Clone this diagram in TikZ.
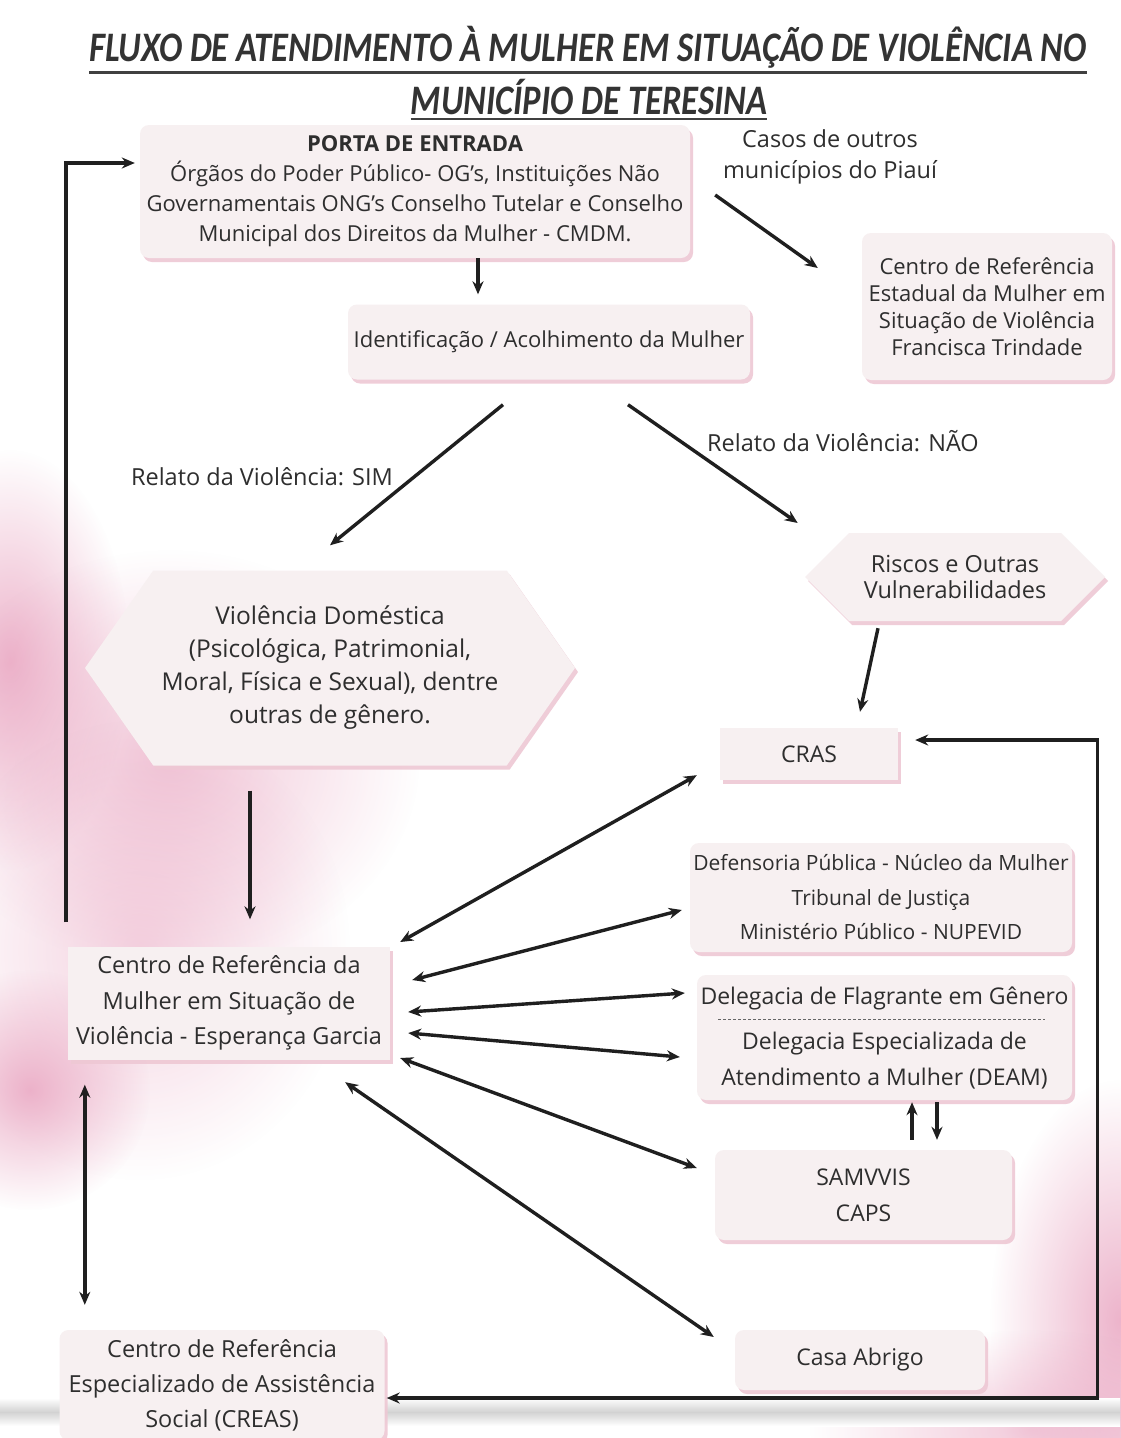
\documentclass[tikz,border=0pt]{standalone}
\usepackage{fontspec}
\setmainfont{Open Sans}
\newfontfamily\titlefont{Carlito}
\usetikzlibrary{shapes.symbols,shadows,fadings,arrows.meta}

\definecolor{boxfill}{HTML}{F7F0F1}
\definecolor{boxshadow}{HTML}{EEC8D4}
\definecolor{txt}{HTML}{2E2E2E}
\definecolor{pinkbg}{HTML}{E79BBA}
\tikzfading[name=softfade, inner color=transparent!25, outer color=transparent!100]

\tikzset{
  box/.style={draw=none, fill=boxfill, text=txt, align=center, inner sep=0pt,
    font=\fontsize{22}{30}\selectfont,
    drop shadow={shadow xshift=3pt, shadow yshift=-4pt, fill=boxshadow, opacity=0.9}},
  rbox/.style={box, rounded corners=9pt},
  hexa/.style={box, shape=signal, signal to=east and west},
  lbl/.style={text=txt, align=center, font=\fontsize{23.5}{31}\selectfont},
  arr/.style={-{Stealth[length=13pt,width=11pt]}, line width=3.4pt, draw=black!88},
  darr/.style={{Stealth[length=13pt,width=11pt]}-{Stealth[length=13pt,width=11pt]}, line width=3.4pt, draw=black!88},
  softpink/.style={fill=pinkbg, path fading=softfade},
  ttl/.style={text=black!80, font=\titlefont\bfseries\itshape\fontsize{42}{42}\selectfont, inner sep=0pt}
}

\begin{document}
\begin{tikzpicture}[x=1pt,y=-1pt]
\useasboundingbox (0,0) rectangle (1120,1438);
\fill[white] (0,0) rectangle (1120,1438);

% background watercolour
\fill[softpink] (10,660) ellipse (120 and 210);
\fill[softpink, opacity=0.75] (170,760) ellipse (250 and 210);
\fill[softpink, opacity=0.6] (140,950) ellipse (210 and 230);
\fill[softpink] (30,1090) ellipse (120 and 120);
\fill[softpink] (1120,1320) ellipse (130 and 240);
\fill[softpink, opacity=0.7] (1030,1430) ellipse (220 and 100);
\shade[top color=white, bottom color=gray!35] (0,1398) rectangle (1120,1412);
\shade[top color=gray!35, bottom color=white] (0,1412) rectangle (1120,1426);

% title
\node[ttl] (t1) at (588,47) {\scalebox{0.825}[1]{FLUXO DE ATENDIMENTO À MULHER EM SITUAÇÃO DE VIOLÊNCIA NO}};
\node[ttl] (t2) at (589,97) {\scalebox{0.825}[1]{MUNICÍPIO DE TERESINA}};
\draw[line width=2.8pt, black!75] ([yshift=-4pt]t1.south west) -- ([yshift=-4pt]t1.south east);
\draw[line width=2.8pt, black!75] ([yshift=-4pt]t2.south west) -- ([yshift=-4pt]t2.south east);

% nodes
\node[rbox, minimum width=550, minimum height=133] (porta) at (415,191.5)
  {{\bfseries PORTA DE ENTRADA}\\Órgãos do Poder Público- OG’s, Instituições Não\\Governamentais ONG’s Conselho Tutelar e Conselho\\Municipal dos Direitos da Mulher - CMDM.};
\node[rbox, minimum width=402, minimum height=75] (iden) at (549,342)
  {Identificação / Acolhimento da Mulher};
\node[lbl] (casos) at (830,157) {Casos de outros\\municípios do Piauí};
\node[rbox, minimum width=250, minimum height=147, font=\fontsize{22}{27}\selectfont] (estad) at (987,306.5)
  {Centro de Referência\\Estadual da Mulher em\\Situação de Violência\\Francisca Trindade};
\node[lbl] (sim) at (262,477) {Relato da Violência: SIM};
\node[lbl] (nao) at (843,441) {Relato da Violência: NÃO};
\node[hexa, signal pointer angle=110, minimum width=490, minimum height=195, font=\fontsize{24.5}{33}\selectfont] (viol) at (330,668)
  {Violência Doméstica\\(Psicológica, Patrimonial,\\Moral, Física e Sexual), dentre\\outras de gênero.};
\node[hexa, signal pointer angle=90, minimum width=300, minimum height=88, font=\fontsize{23.5}{26}\selectfont] (risc) at (955,577)
  {Riscos e Outras\\Vulnerabilidades};
\node[box, minimum width=178, minimum height=52, font=\fontsize{23}{30}\selectfont] (cras) at (809,754) {CRAS};
\node[rbox, minimum width=382, minimum height=109, font=\fontsize{21}{34.5}\selectfont] (defe) at (881,897.5)
  {Defensoria Pública - Núcleo da Mulher\\Tribunal de Justiça\\Ministério Público - NUPEVID};
\node[rbox, minimum width=375, minimum height=125, font=\fontsize{23}{36}\selectfont] (dele) at (884.5,1037.5)
  {Delegacia de Flagrante em Gênero\\[9pt]Delegacia Especializada de\\Atendimento a Mulher (DEAM)};
\draw[line width=0.9pt, black!60, dash pattern=on 3pt off 2pt] (718,1019) -- (1045,1019);
\node[rbox, minimum width=297, minimum height=90, font=\fontsize{23}{36}\selectfont] (samv) at (863.5,1195)
  {SAMVVIS\\CAPS};
\node[rbox, minimum width=250, minimum height=60, font=\fontsize{23}{30}\selectfont] (casa) at (860,1360) {Casa Abrigo};
\node[box, minimum width=322, minimum height=113, font=\fontsize{23.5}{35.5}\selectfont] (centro) at (229,1003)
  {Centro de Referência da\\Mulher em Situação de\\Violência - Esperança Garcia};
\node[rbox, minimum width=325, minimum height=110, font=\fontsize{23.5}{35}\selectfont] (creas) at (222,1385)
  {Centro de Referência\\Especializado de Assistência\\Social (CREAS)};

% connectors
\draw[arr] ([shift={(63,0)}]porta.south) -- ([shift={(-71,-10)}]iden.north);
\draw[arr] ([shift={(25,3.5)}]porta.east) -- ([shift={(-44,-38.5)}]estad.west);
\draw[arr] ([shift={(-46,25)}]iden.south) -- ([shift={(0,-25)}]viol.north);
\draw[arr] ([shift={(79,25)}]iden.south) -- ([shift={(-7,-54)}]risc.west);
\draw[arr] ([shift={(-77,7)}]risc.south) -- ([shift={(51,-16)}]cras.north);
\draw[arr] ([shift={(-80,25)}]viol.south) -- ([shift={(21,-27)}]centro.north);
\draw[arr] ([shift={(-2,-24)}]centro.north west) |- ([shift={(-5,-28.5)}]porta.west);
\draw[darr] ([shift={(17,25)}]centro.south west) -- ([shift={(25.5,-25)}]creas.north west);
\draw[darr] ([shift={(17,-14)}]cras.east) -- ++(182,0) |- ([shift={(2,13)}]creas.east);
\draw[darr] ([shift={(10,-61)}]centro.east) -- ([shift={(-23,-5)}]cras.south west);
\draw[darr] ([shift={(22,-23)}]centro.east) -- ([shift={(-8,12.5)}]defe.west);
\draw[darr] ([shift={(18,9)}]centro.east) -- ([shift={(-12,-44.5)}]dele.west);
\draw[darr] ([shift={(18,30)}]centro.east) -- ([shift={(-17,19.5)}]dele.west);
\draw[darr] ([shift={(10,55)}]centro.east) -- ([shift={(-18,-27)}]samv.west);
\draw[darr] ([shift={(-45,22.5)}]centro.south east) -- ([shift={(-21,-23)}]casa.west);
\draw[arr] ([shift={(48.5,-10)}]samv.north) -- ([shift={(27.5,2)}]dele.south);
\draw[arr] ([shift={(52.5,2)}]dele.south) -- ([shift={(73.5,-10)}]samv.north);
\end{tikzpicture}
\end{document}
